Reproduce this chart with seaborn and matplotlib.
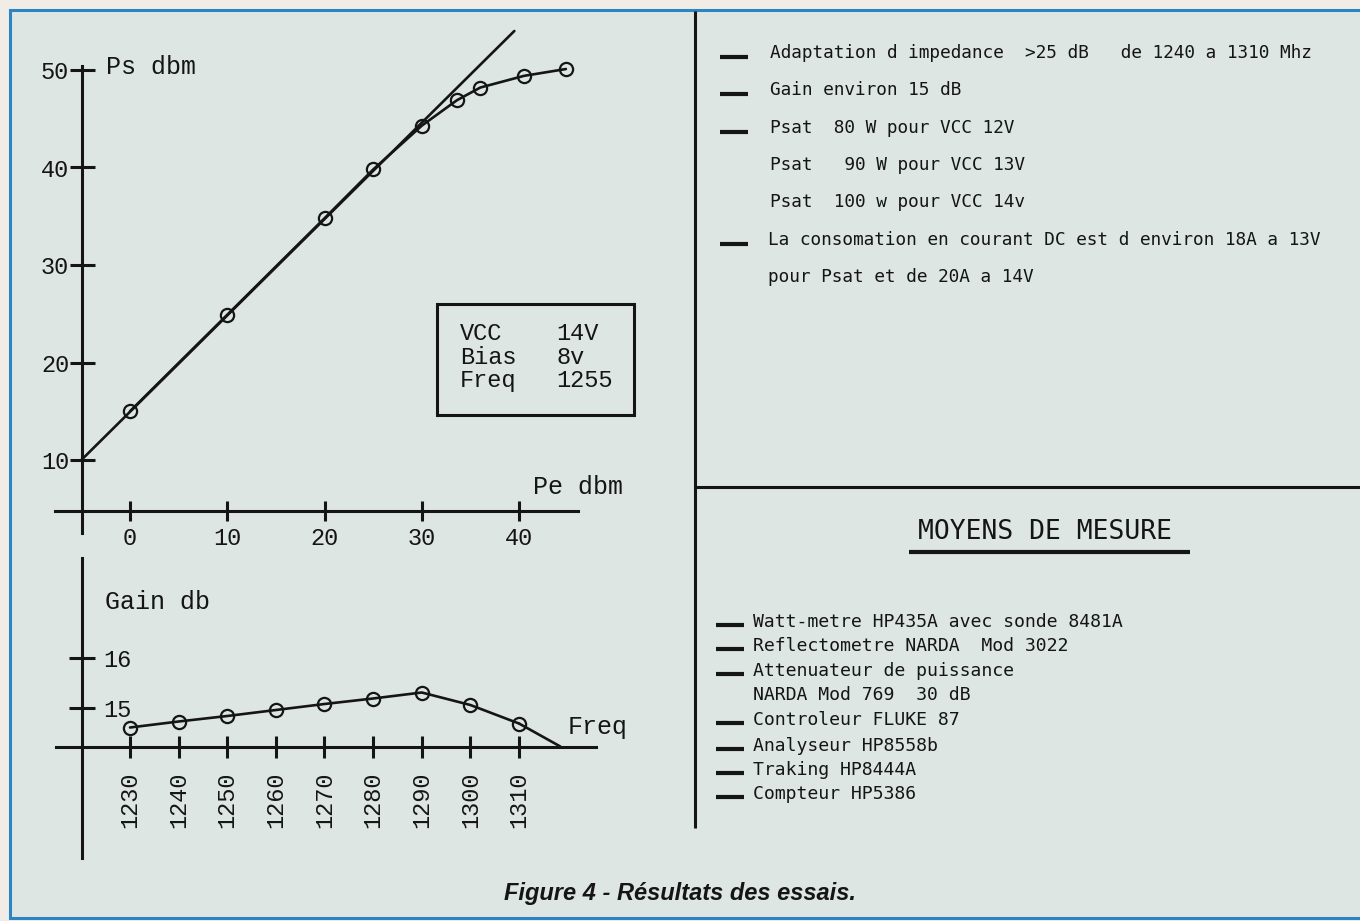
import matplotlib
matplotlib.use("Agg")
import matplotlib.pyplot as plt
import seaborn as sns
from matplotlib.lines import Line2D
from matplotlib.patches import Rectangle

# values
pe_dbm = [0, 10, 20, 25, 30, 33.6, 36, 40.5, 44.8]
ps_dbm = [15, 24.9, 34.8, 39.8, 44.3, 46.9, 48.2, 49.4, 50.1]
linear_pe = [-5, 39.5]
linear_ps = [10, 54]
pe_ticks = [0, 10, 20, 30, 40]
ps_ticks = [10, 20, 30, 40, 50]

freq_mhz = [1230, 1240, 1250, 1260, 1270, 1280, 1290, 1300, 1310]
gain_db = [14.61, 14.73, 14.84, 14.96, 15.08, 15.19, 15.31, 15.06, 14.69]
tail_freq = [1310, 1318.5]
tail_gain = [14.69, 14.23]
gain_ticks = [15, 16]

conditions = ["VCC", "Bias", "Freq"]
condition_values = ["14V", "8v", "1255"]

notes = [
    "Adaptation d impedance  >25 dB   de 1240 a 1310 Mhz",
    "Gain environ 15 dB",
    "Psat  80 W pour VCC 12V",
    "Psat   90 W pour VCC 13V",
    "Psat  100 w pour VCC 14v",
    "La consomation en courant DC est d environ 18A a 13V",
    "pour Psat et de 20A a 14V",
]
note_bullets = [True, True, True, False, False, True, False]

instruments = [
    "Watt-metre HP435A avec sonde 8481A",
    "Reflectometre NARDA  Mod 3022",
    "Attenuateur de puissance",
    "NARDA Mod 769  30 dB",
    "Controleur FLUKE 87",
    "Analyseur HP8558b",
    "Traking HP8444A",
    "Compteur HP5386",
]
instrument_bullets = [True, True, True, False, True, True, True, True]

W, H = 1360, 921
INK = "#151515"
PAPER = "#f1ece5"
PANEL = "#dde6e2"
FRAME = "#2d84c2"

sns.set_style("white")
plt.rcParams["font.family"] = ["Liberation Mono", "DejaVu Sans Mono"]

fig = plt.figure(figsize=(W / 100, H / 100), dpi=100, facecolor=PAPER)


def fx(x):
    return x / W


def fy(y):
    return 1 - y / H


def px_axes(x0, x1, y0, y1):
    ax = fig.add_axes([fx(x0), fy(y1), (x1 - x0) / W, (y1 - y0) / H])
    ax.set_facecolor("none")
    return ax


# pixel calibration of the two hand-drawn graphs
def pe_at(x):
    return (x - 130) / 9.73


def ps_at(y):
    return 10 + (460 - y) / 9.75


def fr_at(x):
    return 1230 + (x - 130) / 4.8625


def gn_at(y):
    return 15 + (708 - y) / 50


# panel background and frame
fig.add_artist(Rectangle((fx(10), fy(918)), (1400 - 10) / W, (918 - 10) / H,
                         transform=fig.transFigure, facecolor=PANEL,
                         edgecolor=FRAME, linewidth=2.2, zorder=-10))


def fig_line(xs, ys, lw=2.2):
    fig.add_artist(Line2D([fx(v) for v in xs], [fy(v) for v in ys],
                          transform=fig.transFigure, color=INK, lw=lw,
                          solid_capstyle="butt"))


fig_line([695, 695], [11, 828])
fig_line([695, 1360], [487, 487])

# ---- Ps vs Pe ----
ax1 = px_axes(30, 660, 20, 545)
ax1.set_xlim(pe_at(30), pe_at(660))
ax1.set_ylim(ps_at(545), ps_at(20))
sns.lineplot(x=linear_pe, y=linear_ps, ax=ax1, color=INK, linewidth=1.9)
sns.lineplot(x=pe_dbm, y=ps_dbm, ax=ax1, color=INK, linewidth=1.9,
             marker="o", markersize=9.5, markerfacecolor="none",
             markeredgecolor=INK, markeredgewidth=1.6)
for s in ["top", "right"]:
    ax1.spines[s].set_visible(False)
ax1.spines["left"].set_position(("data", pe_at(81.7)))
ax1.spines["left"].set_bounds(ps_at(533), ps_at(66))
ax1.spines["bottom"].set_position(("data", ps_at(511)))
ax1.spines["bottom"].set_bounds(pe_at(55), pe_at(578))
for s in ["left", "bottom"]:
    ax1.spines[s].set_linewidth(2.2)
    ax1.spines[s].set_color(INK)
ax1.set_xticks(pe_ticks, [str(v) for v in pe_ticks])
ax1.set_yticks(ps_ticks, [str(v) for v in ps_ticks])
ax1.tick_params(axis="y", direction="inout", length=18, width=2.2, pad=0,
                labelsize=17, colors=INK, left=True, right=False)
ax1.tick_params(axis="x", direction="inout", length=15, width=2.2, pad=4,
                labelsize=17, colors=INK, bottom=True, top=False)
ax1.set_xlabel("")
ax1.set_ylabel("")

fig.text(fx(106), fy(67), "Ps dbm", fontsize=18, va="center", ha="left", color=INK)
fig.text(fx(533), fy(487), "Pe dbm", fontsize=18, va="center", ha="left", color=INK)

# conditions box: one multi-line text per column
fig.add_artist(Rectangle((fx(437), fy(415)), (634 - 437) / W, (415 - 304) / H,
                         transform=fig.transFigure, facecolor="none",
                         edgecolor=INK, linewidth=2.2))
fig.text(fx(460), fy(357), "\n".join(conditions), fontsize=17, linespacing=1.05,
         va="center", ha="left", color=INK)
fig.text(fx(556), fy(357), "\n".join(condition_values), fontsize=17,
         linespacing=1.05, va="center", ha="left", color=INK)

# ---- Gain vs Freq ----
ax2 = px_axes(30, 660, 550, 870)
ax2.set_xlim(fr_at(30), fr_at(660))
ax2.set_ylim(gn_at(870), gn_at(550))
sns.lineplot(x=tail_freq, y=tail_gain, ax=ax2, color=INK, linewidth=1.9)
sns.lineplot(x=freq_mhz, y=gain_db, ax=ax2, color=INK, linewidth=1.9,
             marker="o", markersize=9.5, markerfacecolor="none",
             markeredgecolor=INK, markeredgewidth=1.6)
ax2.spines["top"].set_visible(False)
ax2.spines["right"].set_visible(False)
ax2.spines["right"].set_position(("data", fr_at(81.7)))
ax2.spines["left"].set_position(("data", fr_at(81.7)))
ax2.spines["left"].set_bounds(gn_at(858), gn_at(558))
ax2.spines["bottom"].set_position(("data", gn_at(746.7)))
ax2.spines["bottom"].set_bounds(fr_at(56), fr_at(596))
for s in ["left", "bottom"]:
    ax2.spines[s].set_linewidth(2.2)
    ax2.spines[s].set_color(INK)
ax2.set_xticks(freq_mhz, [str(v) for v in freq_mhz])
ax2.set_yticks(gain_ticks, [str(v) for v in gain_ticks])
ax2.tick_params(axis="y", direction="inout", length=19.4, width=2.2, pad=5.8,
                labelsize=17, colors=INK, left=True, right=False,
                labelleft=False, labelright=True)
ax2.tick_params(axis="x", direction="inout", length=16.5, width=2.2, pad=9.7,
                labelsize=17, colors=INK, labelrotation=90, bottom=True,
                top=False)
ax2.set_xlabel("")
ax2.set_ylabel("")

fig.text(fx(105), fy(602), "Gain db", fontsize=18, va="center", ha="left", color=INK)
fig.text(fx(568), fy(727), "Freq", fontsize=18, va="center", ha="left", color=INK)

# ---- notes, upper right ----
note_y = [53.3, 90, 127.7, 165, 202.3, 240, 276.7]
for i, (txt, yy) in enumerate(zip(notes, note_y)):
    x0 = 770 if i < 5 else 768
    fig.text(fx(x0), fy(yy), txt, fontsize=12.8, family="DejaVu Sans Mono",
             va="center", ha="left", color=INK)
    if note_bullets[i]:
        fig_line([720, 748], [yy + 4, yy + 4], lw=3)

# ---- instruments, lower right ----
fig.text(fx(1045), fy(531.7), "MOYENS DE MESURE", fontsize=19,
         family="DejaVu Sans Mono", va="center", ha="center", color=INK)
fig_line([909, 1190], [551.7, 551.7], lw=3)
inst_y = [621.7, 645.7, 671, 695, 720, 745.7, 770, 794.3]
for i, (txt, yy) in enumerate(zip(instruments, inst_y)):
    fig.text(fx(753), fy(yy), txt, fontsize=13.1, family="DejaVu Sans Mono",
             va="center", ha="left", color=INK)
    if instrument_bullets[i]:
        fig_line([716, 744], [yy + 3, yy + 3], lw=3)

fig.text(fx(680.5), fy(893), "Figure 4 - R\u00e9sultats des essais.", fontsize=17,
         family="Liberation Sans", weight="bold", style="italic",
         va="center", ha="center", color=INK)

fig.savefig("out.png", dpi=100, facecolor=PAPER)
